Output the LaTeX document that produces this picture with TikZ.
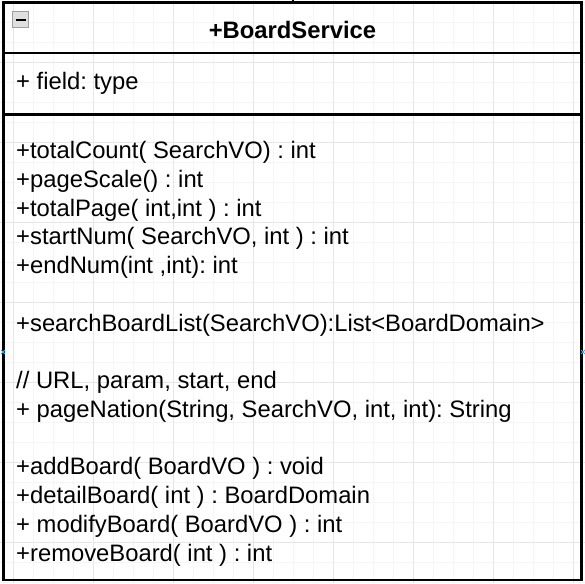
\documentclass[tikz,border=0pt]{standalone}
\usepackage{fontspec}
\setmainfont{Liberation Sans}
\frenchspacing
\definecolor{gridminor}{RGB}{245,245,245}
\definecolor{gridmajor}{RGB}{230,230,230}
\definecolor{hoverblue}{RGB}{41,182,242}
\tikzset{every picture/.append style={x=1pt,y=-1pt}}
\tikzset{
  member/.style={anchor=base west, inner sep=0pt, font=\fontsize{23.8}{28}\selectfont},
  classname/.style={anchor=base, inner sep=0pt, font=\fontsize{23.8}{28}\selectfont\bfseries},
  umlline/.style={line width=2.4pt},
  togglebox/.style={draw=gray!75, fill=gray!25, line width=1pt, minimum size=16pt, inner sep=0pt},
  hovermark/.style={hoverblue, line width=0.8pt}
}

\begin{document}
\begin{tikzpicture}
  \useasboundingbox (0,0) rectangle (585,583);
  % background grid
  \foreach \gx in {13,33,...,573} \draw[gridminor, line width=0.8pt] (\gx,0) -- (\gx,583);
  \foreach \gy in {2,22,...,582} \draw[gridminor, line width=0.8pt] (0,\gy) -- (585,\gy);
  \foreach \gx in {13,93,...,573} \draw[gridmajor, line width=0.8pt] (\gx,0) -- (\gx,583);
  \foreach \gy in {62,142,...,542} \draw[gridmajor, line width=0.8pt] (0,\gy) -- (585,\gy);

  % class box
  \draw[umlline] (3.5,2.5) rectangle (581.5,580);
  \draw[umlline] (3.5,53) -- (581.5,53);
  \draw[umlline] (3.5,114.5) -- (581.5,114.5);
  \draw[line width=1.2pt] (293,0) -- (293,2.5);

  % collapse toggle
  \node[togglebox] (toggle) at (20.5,20) {};
  \draw[line width=2pt] ([xshift=-5pt]toggle.center) -- ([xshift=5pt]toggle.center);

  % name
  \node[classname] (name) at (292.5,39) {+BoardService};

  % fields
  \node[member] (field) at (16,90) {+ field: type};

  % methods
  \node[member] (totalCount) at (16,158.5) {+totalCount( SearchVO) : int};
  \node[member] (pageScale) at (16,187.25) {+pageScale() : int};
  \node[member] (totalPage) at (16,216) {+totalPage( int,int ) : int};
  \node[member] (startNum) at (16,244.75) {+startNum( SearchVO, int ) : int};
  \node[member] (endNum) at (16,273.5) {+endNum(int ,int): int};
  \node[member] (searchList) at (16,331) {+searchBoardList(SearchVO):List<BoardDomain>};
  \node[member] (urlNote) at (16,388.5) {// URL, param, start, end};
  \node[member] (pageNation) at (16,417.25) {+ pageNation(String, SearchVO, int, int): String};
  \node[member] (addBoard) at (16,474.75) {+addBoard( BoardVO ) : void};
  \node[member] (detailBoard) at (16,503.5) {+detailBoard( int ) : BoardDomain};
  \node[member] (modifyBoard) at (16,532.25) {+ modifyBoard( BoardVO ) : int};
  \node[member] (removeBoard) at (16,561) {+removeBoard( int ) : int};

  % connection points
  \coordinate (pinW) at (3,352);
  \coordinate (pinE) at (583,352);
  \draw[hovermark] ([shift={(-2,-2)}]pinW) -- ([shift={(2,2)}]pinW) ([shift={(-2,2)}]pinW) -- ([shift={(2,-2)}]pinW);
  \draw[hovermark] ([shift={(-2,-2)}]pinE) -- ([shift={(2,2)}]pinE) ([shift={(-2,2)}]pinE) -- ([shift={(2,-2)}]pinE);
\end{tikzpicture}
\end{document}
